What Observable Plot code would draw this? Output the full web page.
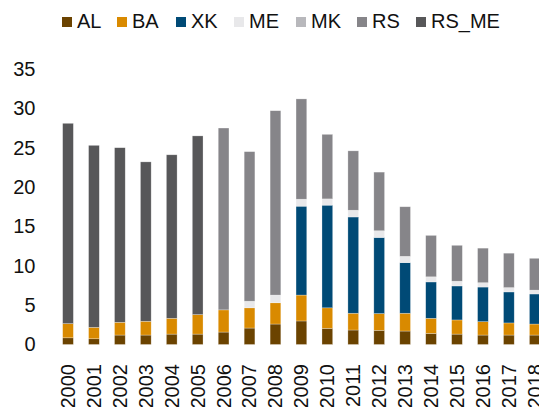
<!DOCTYPE html>
<html>
<head>
<meta charset="utf-8">
<script src="https://cdn.jsdelivr.net/npm/d3@7"></script>
<script src="https://cdn.jsdelivr.net/npm/@observablehq/plot@0.6"></script>
<style>
  html, body { margin: 0; padding: 0; background: #fff; overflow: hidden; }
  body { width: 539px; height: 407px; font-family: Arial, "Liberation Sans", sans-serif; }
  #legend { position: relative; height: 40px; }
  .item { position: absolute; top: 10px; height: 22px; display: flex; align-items: center; font-size: 20px; line-height: 20px; color: #111; }
  .sw { width: 10px; height: 10px; margin-right: 5px; margin-top: 1px; }
  #chart svg { display: block; overflow: hidden; }
</style>
</head>
<body>
<div id="legend"></div>
<div id="chart"></div>
<script>
const years = ["2000","2001","2002","2003","2004","2005","2006","2007","2008","2009","2010","2011","2012","2013","2014","2015","2016","2017","2018"];
const seriesNames = ["AL","BA","XK","ME","MK","RS","RS_ME"];
const seriesColors = ["#6b4300","#d98a00","#004a76","#e8e8ea","#b8b8bc","#868589","#575759"];
const AL    = [0.85,0.73,1.20,1.20,1.32,1.32,1.58,2.09,2.60,2.99,2.05,1.84,1.80,1.71,1.41,1.32,1.20,1.20,1.20];
const BA    = [1.80,1.45,1.62,1.75,2.01,2.48,2.82,2.57,2.70,3.29,2.61,2.13,2.13,2.26,1.92,1.80,1.70,1.54,1.40];
const XK    = [0,0,0,0,0,0,0,0,0,11.29,13.04,12.23,9.67,6.43,4.62,4.32,4.40,3.94,3.82];
const ME    = [0,0,0,0,0,0,0,0.84,0.98,0.89,0.80,0.86,0.85,0.80,0.65,0.60,0.55,0.55,0.49];
const MK    = [0,0,0,0,0,0,0,0,0,0,0,0,0,0,0,0,0,0,0];
const RS    = [0,0,0,0,0,0,23.10,19.00,23.42,12.74,8.20,7.54,7.45,6.30,5.26,4.56,4.39,4.37,4.04];
const RS_ME = [25.45,23.12,22.18,20.25,20.77,22.70,0,0,0,0,0,0,0,0,0,0,0,0,0];
const yTicks = [0,5,10,15,20,25,30,35];

const seriesValues = [AL, BA, XK, ME, MK, RS, RS_ME];
const data = [];
seriesNames.forEach((name, k) => {
  years.forEach((yr, i) => {
    const v = seriesValues[k][i];
    if (v > 0) data.push({year: yr, series: name, value: v});
  });
});

// Legend
const legend = document.getElementById("legend");
const lefts = [62,117,176,234,296,357,416];
seriesNames.forEach((name, k) => {
  const it = document.createElement("div");
  it.className = "item";
  it.style.left = lefts[k] + "px";
  const sw = document.createElement("span");
  sw.className = "sw";
  sw.style.background = seriesColors[k];
  const tx = document.createElement("span");
  tx.textContent = name;
  it.appendChild(sw); it.appendChild(tx);
  legend.appendChild(it);
});

const chart = Plot.plot({
  width: 539,
  height: 367,
  marginTop: 29,
  marginBottom: 62.5,
  marginLeft: 55,
  marginRight: 0,
  style: {fontFamily: "Arial, 'Liberation Sans', sans-serif", fontSize: "20px", color: "#111", background: "#fff"},
  x: {domain: years, range: [55, 547.8], round: false, paddingInner: 0.587, paddingOuter: 0.295, label: null},
  y: {domain: [0, 35], label: null},
  color: {domain: seriesNames, range: seriesColors},
  marks: [
    Plot.ruleY(yTicks, {y: d => d, x1: 55, x2: 539, stroke: "#d9d9d9", strokeWidth: 1.6}),
    Plot.barY(data, {
      x: "year", y: "value", fill: "series",
      order: seriesNames,
      stroke: "#ffffff", strokeOpacity: 0.45, strokeWidth: 0.6
    }),
    Plot.axisY(yTicks, {tickSize: 0, tickPadding: 20, fontSize: 20, label: null}),
    Plot.axisX({tickSize: 0, tickRotate: -90, tickPadding: 19, fontSize: 20, label: null})
  ]
});
document.getElementById("chart").appendChild(chart);
</script>
</body>
</html>
